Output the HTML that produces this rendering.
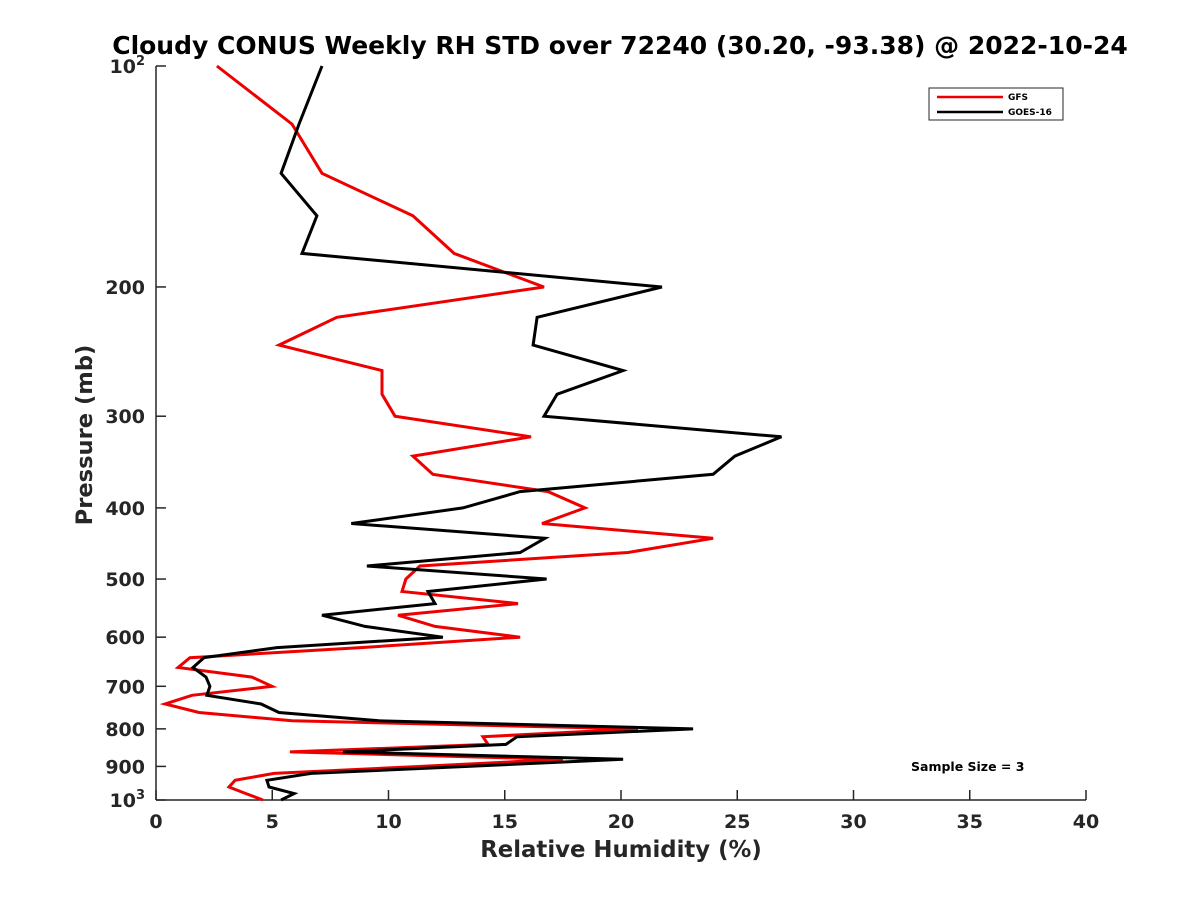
<!DOCTYPE html>
<html><head><meta charset="utf-8"><style>
body{margin:0;background:#fff;}
svg text{font-family:"DejaVu Sans","Liberation Sans",sans-serif;font-weight:bold;fill:#262626;}
</style></head><body>
<svg id="chart" width="1200" height="900" xmlns="http://www.w3.org/2000/svg">
<rect width="1200" height="900" fill="#fff"/>
<text x="620" y="54" text-anchor="middle" font-size="25" style="fill:#000">Cloudy CONUS Weekly RH STD over 72240 (30.20, -93.38) @ 2022-10-24</text>
<g id="axes"></g>
<g id="series"></g>
<text x="621" y="857" text-anchor="middle" font-size="22.8">Relative Humidity (%)</text>
<text transform="translate(92,435) rotate(-90)" text-anchor="middle" font-size="22.6">Pressure (mb)</text>
<g>
<rect x="929" y="88" width="134" height="32" fill="#fff" stroke="#262626" stroke-width="1"/>
<g><line x1="937" y1="97" x2="1003" y2="97" stroke="#e00" stroke-width="2.5"/><text x="1008" y="100" font-size="9" style="fill:#000">GFS</text></g>
<g><line x1="937" y1="112" x2="1003" y2="112" stroke="#000" stroke-width="2.5"/><text x="1008" y="115" font-size="9" style="fill:#000">GOES-16</text></g>
</g>
<text x="911" y="771" font-size="12.5" style="fill:#000">Sample Size = 3</text>
</svg>
<script>
const pressures=[100,120,140,160,180,200,220,240,260,280,300,320,340,360,380,400,420,440,460,480,500,520,540,560,580,600,620,640,660,680,700,720,740,760,780,800,820,840,860,880,900,920,940,960,980,1000];
const gfsValues=[2.62,5.85,7.14,11.05,12.82,16.69,7.78,5.29,9.72,9.72,10.28,16.13,11.05,11.91,16.86,18.45,16.6,23.96,20.3,11.35,10.75,10.58,15.57,10.41,12.0,15.66,8.8,1.46,0.95,4.13,4.99,1.55,0.39,1.85,5.85,20.73,14.06,14.28,5.76,17.5,11.4,5.08,3.4,3.14,3.87,4.6];
const goesValues=[7.14,6.15,5.38,6.92,6.28,21.76,16.39,16.22,20.09,17.25,16.69,26.9,24.9,23.96,15.66,13.2,8.4,16.73,15.66,9.07,16.8,11.7,12.0,7.14,8.99,12.34,5.2,2.06,1.59,2.15,2.32,2.19,4.52,5.29,9.59,23.1,15.53,15.05,8.04,20.09,13.4,6.67,4.77,4.86,5.94,5.38];
const xTicks=[0,5,10,15,20,25,30,35,40];
const yTicks=[100,200,300,400,500,600,700,800,900,1000];
const yTickLabels=["10^2","200","300","400","500","600","700","800","900","10^3"];

const X0=156,X1=1086,Y0=66,Y1=800;
function xs(v){return X0+(v-0)/(40-0)*(X1-X0);}
function ys(p){return Y0+Math.log10(p/100)*(Y1-Y0);}
const NS="http://www.w3.org/2000/svg";
function mk(tag,attrs,parent){const e=document.createElementNS(NS,tag);for(const k in attrs)e.setAttribute(k,attrs[k]);parent.appendChild(e);return e;}
const axes=document.getElementById('axes');
let l=mk('line',{x1:X0,y1:Y0,x2:X0,y2:Y1,stroke:'#262626','stroke-width':1.5},axes);


l=mk('line',{x1:X0,y1:Y1,x2:X1,y2:Y1,stroke:'#262626','stroke-width':1.5},axes);


xTicks.forEach(v=>{
  const x=xs(v);
  const t=mk('line',{x1:x,y1:Y1,x2:x,y2:Y1-10,stroke:'#262626','stroke-width':1.5},axes);
  
  
  const tx=mk('text',{x:x,y:Y1+28,'text-anchor':'middle','font-size':19},axes);
  tx.textContent=v;
  
  
});
yTicks.forEach((p,i)=>{
  const y=ys(p);
  const t=mk('line',{x1:X0,y1:y,x2:X0+10,y2:y,stroke:'#262626','stroke-width':1.5},axes);
  
  
  const lab=yTickLabels[i];
  const tx=mk('text',{x:X0-11,y:y+7,'text-anchor':'end','font-size':19},axes);
  
  
  if(lab.indexOf('^')>=0){
    const parts=lab.split('^');
    const a=mk('tspan',{},tx);a.textContent=parts[0];
    const b=mk('tspan',{dy:-8,'font-size':13},tx);b.textContent=parts[1];
  } else tx.textContent=lab;
});
const ser=document.getElementById('series');
function line(vals,color,name){
  const pts=vals.map((v,i)=>xs(v).toFixed(1)+','+ys(pressures[i]).toFixed(1)).join(' ');
  const pl=mk('polyline',{points:pts,fill:'none',stroke:color,'stroke-width':3,'stroke-linejoin':'miter'},ser);
  
  
}
line(gfsValues,'#e00','gfs-line');
line(goesValues,'#000','goes16-line');
</script>
</body></html>
